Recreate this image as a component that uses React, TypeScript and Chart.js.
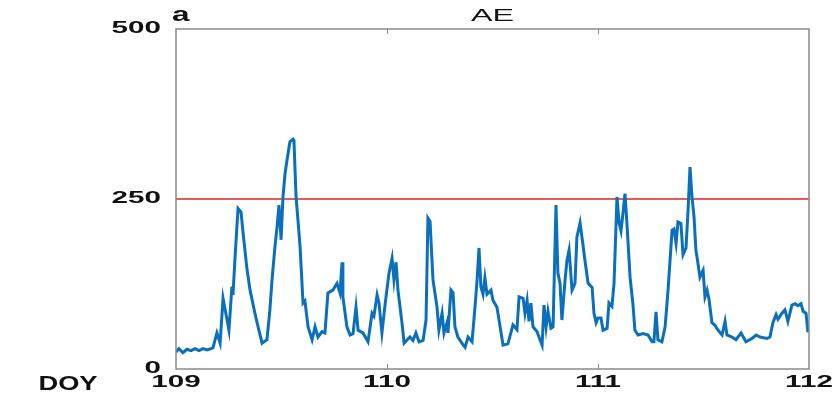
import React, { useEffect, useRef } from "react";
import { Chart, registerables } from "chart.js";

Chart.register(...registerables);

// Day of year (time axis) and AE index values (nT)
const doy: number[] = [
  109.0, 109.014, 109.033, 109.052, 109.071, 109.09, 109.109, 109.128, 109.147, 109.166,
  109.175, 109.194, 109.209, 109.223, 109.242, 109.251, 109.265, 109.27, 109.28, 109.294,
  109.308, 109.318, 109.336, 109.351, 109.374, 109.389, 109.408, 109.431, 109.445, 109.455,
  109.469, 109.479, 109.488, 109.498, 109.507, 109.517, 109.526, 109.54, 109.555, 109.559,
  109.569, 109.578, 109.588, 109.602, 109.611, 109.626, 109.645, 109.659, 109.673, 109.692,
  109.706, 109.72, 109.744, 109.763, 109.777, 109.787, 109.791, 109.81, 109.825, 109.839,
  109.853, 109.863, 109.886, 109.91, 109.929, 109.938, 109.953, 109.962, 109.976, 109.991,
  110.009, 110.024, 110.033, 110.043, 110.052, 110.071, 110.081, 110.109, 110.123, 110.137,
  110.152, 110.171, 110.185, 110.194, 110.204, 110.218, 110.237, 110.246, 110.261, 110.27,
  110.284, 110.289, 110.303, 110.313, 110.322, 110.336, 110.355, 110.37, 110.384, 110.403,
  110.417, 110.427, 110.436, 110.445, 110.455, 110.464, 110.474, 110.493, 110.502, 110.521,
  110.536, 110.55, 110.573, 110.597, 110.616, 110.626, 110.645, 110.654, 110.664, 110.673,
  110.682, 110.692, 110.711, 110.725, 110.735, 110.744, 110.754, 110.763, 110.777, 110.787,
  110.801, 110.81, 110.82, 110.829, 110.844, 110.853, 110.863, 110.877, 110.891, 110.9,
  110.915, 110.929, 110.938, 110.953, 110.972, 110.981, 110.991, 111.0, 111.014, 111.024,
  111.043, 111.052, 111.066, 111.076, 111.09, 111.1, 111.109, 111.118, 111.128, 111.137,
  111.152, 111.166, 111.175, 111.19, 111.213, 111.237, 111.256, 111.265, 111.275, 111.284,
  111.303, 111.318, 111.332, 111.351, 111.36, 111.37, 111.379, 111.393, 111.403, 111.417,
  111.427, 111.436, 111.445, 111.455, 111.464, 111.474, 111.483, 111.498, 111.507, 111.517,
  111.526, 111.54, 111.555, 111.569, 111.588, 111.602, 111.611, 111.635, 111.654, 111.678,
  111.701, 111.73, 111.749, 111.768, 111.801, 111.815, 111.829, 111.844, 111.853, 111.872,
  111.886, 111.9, 111.919, 111.934, 111.948, 111.962, 111.972, 111.986, 111.995,
];

const ae: number[] = [
  25, 30, 24, 29, 27, 30, 27, 30, 28, 30,
  31, 53, 38, 104, 72, 57, 121, 109, 165, 236,
  231, 200, 148, 116, 82, 62, 38, 43, 87, 131,
  180, 209, 241, 190, 253, 288, 307, 334, 338, 336,
  253, 219, 180, 97, 100, 62, 43, 62, 47, 55,
  53, 112, 116, 126, 112, 157, 106, 62, 50, 52,
  91, 57, 53, 40, 82, 78, 109, 97, 53, 95,
  140, 163, 131, 157, 116, 68, 38, 47, 42, 53,
  40, 42, 72, 222, 217, 131, 91, 57, 82, 53,
  68, 53, 116, 112, 62, 47, 38, 32, 47, 40,
  91, 131, 178, 121, 110, 134, 110, 116, 101, 91,
  62, 35, 37, 65, 58, 106, 104, 82, 101, 70,
  97, 62, 55, 43, 35, 94, 62, 85, 60, 62,
  241, 141, 126, 72, 131, 160, 175, 116, 126, 194,
  215, 182, 160, 126, 120, 82, 68, 75, 75, 57,
  60, 97, 92, 126, 253, 215, 203, 228, 258, 215,
  135, 94, 57, 50, 52, 50, 40, 40, 84, 43,
  40, 62, 116, 204, 206, 185, 216, 214, 168, 178,
  234, 297, 255, 224, 175, 155, 135, 145, 106, 116,
  103, 68, 64, 57, 50, 70, 50, 47, 43, 53,
  40, 45, 50, 47, 45, 47, 68, 80, 73, 82,
  87, 70, 94, 96, 93, 96, 85, 82, 54,
];

const thresholdDoy: number[] = [109, 112];
const thresholdValue: number[] = [250, 250];

const xTicks: number[] = [109, 110, 111, 112];
const yTicks: number[] = [0, 250, 500];

const titleText = "AE";
const panelLabel = "a";
const xAxisLabel = "DOY";

const FONT = "'Liberation Sans', Arial, sans-serif";

function stretchedText(
  ctx: CanvasRenderingContext2D,
  text: string,
  x: number,
  y: number,
  sx: number,
  align: CanvasTextAlign,
  font: string
) {
  ctx.save();
  ctx.translate(x, y);
  ctx.scale(sx, 1);
  ctx.font = font;
  ctx.textAlign = align;
  ctx.textBaseline = "middle";
  ctx.fillText(text, 0, 0);
  ctx.restore();
}

const framePlugin = {
  id: "frameAndLabels",
  afterDraw(chart: any) {
    const { ctx, chartArea } = chart;
    const { left, right, top, bottom } = chartArea;
    const xs = chart.scales.x;
    const ys = chart.scales.y;
    ctx.save();
    ctx.strokeStyle = "#8a8a8a";
    ctx.lineWidth = 1.5;
    ctx.strokeRect(left, top, right - left, bottom - top);
    ctx.lineWidth = 1;
    xTicks.slice(1, -1).forEach((t) => {
      const px = Math.round(xs.getPixelForValue(t)) + 0.5;
      ctx.beginPath();
      ctx.moveTo(px, bottom);
      ctx.lineTo(px, bottom - 5);
      ctx.moveTo(px, top);
      ctx.lineTo(px, top + 5);
      ctx.stroke();
    });
    ctx.fillStyle = "#111";
    const tickFont = `bold 16px ${FONT}`;
    yTicks.forEach((t) => {
      stretchedText(ctx, String(t), left - 15, ys.getPixelForValue(t), 1.85, "right", tickFont);
    });
    xTicks.forEach((t) => {
      stretchedText(ctx, String(t), xs.getPixelForValue(t), bottom + 14, 1.85, "center", tickFont);
    });
    stretchedText(ctx, titleText, (left + right) / 2, 16, 1.9, "center", `17px ${FONT}`);
    stretchedText(ctx, panelLabel, left - 4, 15, 1.5, "left", `bold 21px ${FONT}`);
    stretchedText(ctx, xAxisLabel, 68, 384, 1.3, "center", `bold 21px ${FONT}`);
    ctx.restore();
  },
};

export default function App() {
  const canvasRef = useRef<HTMLCanvasElement | null>(null);

  useEffect(() => {
    if (!canvasRef.current) return;
    const chart = new Chart(canvasRef.current, {
      type: "line",
      data: {
        datasets: [
          {
            label: "AE",
            data: doy.map((d, i) => ({ x: d, y: ae[i] })),
            borderColor: "#0a6fbd",
            borderWidth: 3,
            pointRadius: 0,
            tension: 0,
            fill: false,
          },
          {
            label: "threshold",
            data: thresholdDoy.map((d, i) => ({ x: d, y: thresholdValue[i] })),
            borderColor: "#e02424",
            borderWidth: 1.5,
            pointRadius: 0,
            fill: false,
          },
        ],
      },
      options: {
        responsive: false,
        animation: false,
        devicePixelRatio: 1,
        layout: { padding: { left: 0, right: 29, top: 29, bottom: 0 } },
        scales: {
          x: {
            type: "linear",
            min: 109,
            max: 112,
            afterBuildTicks: (s: any) => {
              s.ticks = xTicks.map((v) => ({ value: v }));
            },
            afterFit: (s: any) => {
              s.height = 35;
            },
            ticks: { display: false },
            grid: { display: false, drawTicks: false },
            border: { display: false },
          },
          y: {
            min: 0,
            max: 500,
            afterBuildTicks: (s: any) => {
              s.ticks = yTicks.map((v) => ({ value: v }));
            },
            afterFit: (s: any) => {
              s.width = 176;
            },
            ticks: { display: false },
            grid: { display: false, drawTicks: false },
            border: { display: false },
          },
        },
        plugins: {
          legend: { display: false },
          tooltip: { enabled: false },
          title: { display: false },
        },
      },
      plugins: [framePlugin],
    });
    return () => chart.destroy();
  }, []);

  return (
    <div style={{ position: "absolute", left: 0, top: 0, width: 838, height: 404, background: "#fff" }}>
      <canvas ref={canvasRef} width={838} height={404} />
    </div>
  );
}
